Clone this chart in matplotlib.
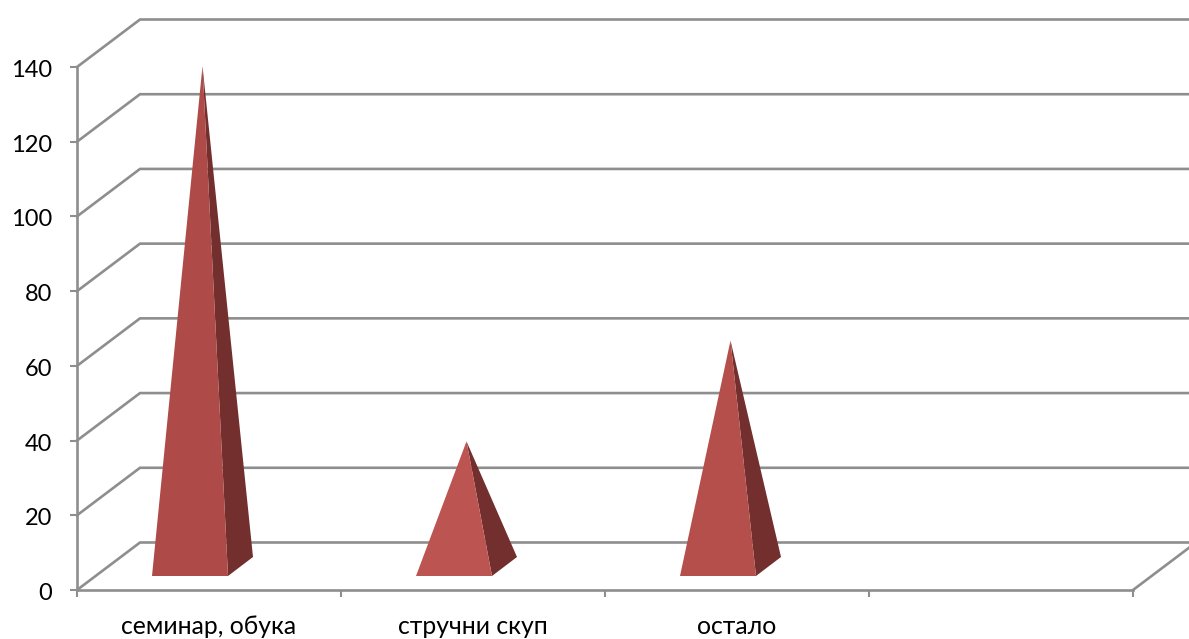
import numpy as np
import matplotlib
matplotlib.use("Agg")
import matplotlib.pyplot as plt
from matplotlib.patches import Polygon
from matplotlib.transforms import ScaledTranslation

plt.rcParams['font.family'] = ['Lato', 'Open Sans', 'DejaVu Sans']

categories = ['семинар, обука', 'стручни скуп', 'остало', '']
values = [134, 33.5, 60.5]
yticks = [0, 20, 40, 60, 80, 100, 120, 140]

grid_color = '#8E8E8E'
front_colors = ['#AE4A47', '#BC5551', '#B44F4B']
side_color = '#732F2E'

# plot box in pixels of the 1189x639 picture
W, H = 1189, 639
left, right, bottom, top = 77, 1133, 590, 67

fig = plt.figure(figsize=(W/100, H/100), dpi=100)
ax = fig.add_axes([left/W, 1 - bottom/H, (right-left)/W, (bottom-top)/H])
ax.set_xlim(0, 4)
ax.set_ylim(0, 140)

# fake 3d depth, in data units
px_x = 4 / (right-left)
px_y = 140 / (bottom-top)
dx = 63 * px_x
dy = 47.5 * px_y
x_end = (W - left) * px_x + 0.02

for v in yticks:
    ax.plot([0, dx, x_end], [v, v+dy, v+dy], color=grid_color, lw=1.9,
            clip_on=False, solid_joinstyle='miter', zorder=1)
ax.plot([4, 4+dx], [0, dy], color=grid_color, lw=1.9, clip_on=False, zorder=1)

# pyramids
half_w = 38 * px_x
base_dx = 25 * px_x
base_dy = 19 * px_y
front_y = 14 * px_y
shift = -19 * px_x
for i, val in enumerate(values):
    c = i + 0.5 + shift
    fl = (c - half_w, front_y)
    fr = (c + half_w, front_y)
    br = (c + half_w + base_dx, front_y + base_dy)
    apex = (c + base_dx/2, front_y + base_dy/2 + val)
    ax.add_patch(Polygon([fr, br, apex], closed=True, fc=side_color, ec='none', zorder=3))
    ax.add_patch(Polygon([fl, fr, apex], closed=True, fc=front_colors[i], ec='none', zorder=4))

for s in ['top', 'right']:
    ax.spines[s].set_visible(False)
for s in ['left', 'bottom']:
    ax.spines[s].set_color(grid_color)
    ax.spines[s].set_linewidth(1.9)

ax.set_yticks(yticks)
ax.set_xticks([0, 1, 2, 3, 4])
ax.set_xticklabels([])
ax.set_xticks([0.5, 1.5, 2.5, 3.5], minor=True)
ax.set_xticklabels(categories, minor=True)
ax.tick_params(axis='y', length=5, width=1.5, color=grid_color, labelsize=17, pad=13)
ax.tick_params(axis='x', which='major', length=5, width=1.5, color=grid_color)
ax.tick_params(axis='x', which='minor', length=0, labelsize=17.8, pad=18)

# y labels sit a touch lower in the original
nudge = ScaledTranslation(0, -1.5/100, fig.dpi_scale_trans)
for lab in ax.get_yticklabels():
    lab.set_transform(lab.get_transform() + nudge)

fig.savefig('out.png', dpi=100)
